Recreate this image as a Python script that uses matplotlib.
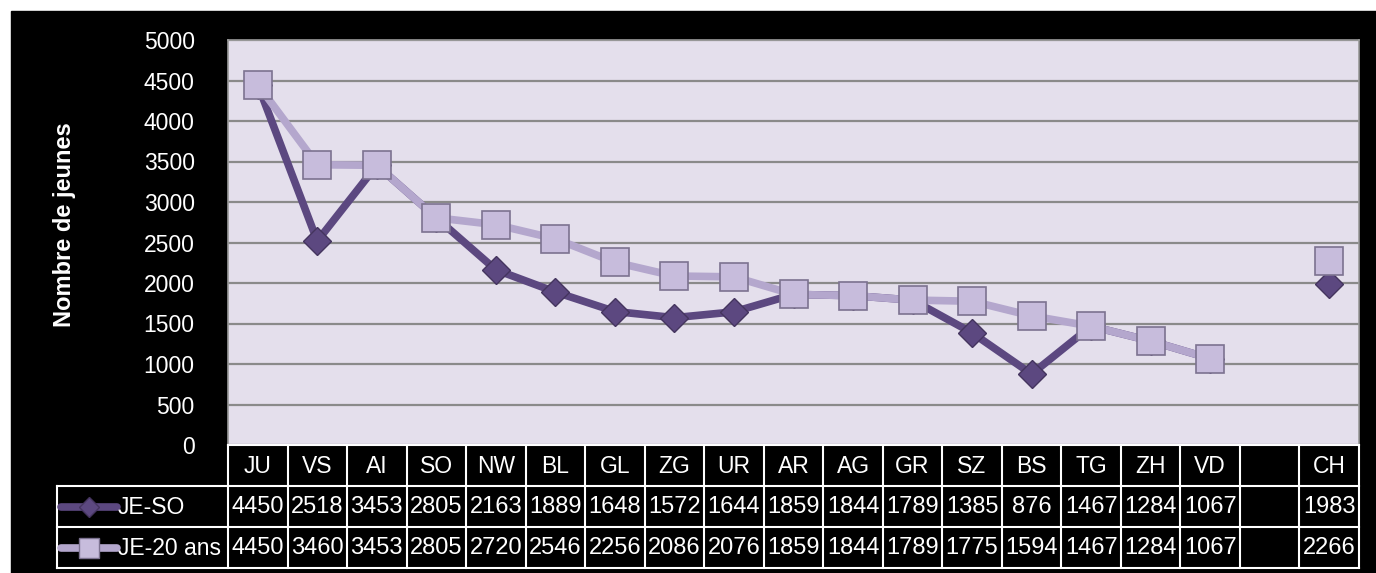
import numpy as np
import matplotlib
matplotlib.use('Agg')
import matplotlib.pyplot as plt
from matplotlib.patches import Rectangle
from matplotlib.lines import Line2D

cantons = ['JU', 'VS', 'AI', 'SO', 'NW', 'BL', 'GL', 'ZG', 'UR', 'AR', 'AG', 'GR',
           'SZ', 'BS', 'TG', 'ZH', 'VD', '', 'CH']
je_so = [4450, 2518, 3453, 2805, 2163, 1889, 1648, 1572, 1644, 1859, 1844, 1789,
         1385, 876, 1467, 1284, 1067, np.nan, 1983]
je_20 = [4450, 3460, 3453, 2805, 2720, 2546, 2256, 2086, 2076, 1859, 1844, 1789,
         1775, 1594, 1467, 1284, 1067, np.nan, 2266]
series_names = ['JE-SO', 'JE-20 ans']

plt.rcParams['font.family'] = ['Liberation Sans', 'DejaVu Sans']

W, H = 1376, 573
fig = plt.figure(figsize=(W / 100, H / 100), dpi=100, facecolor='white')
fig.patches.append(Rectangle((11 / W, 0), 1 - 11 / W, 1 - 11 / H,
                             transform=fig.transFigure, color='black', zorder=-10))

dark = '#5c4880'
dark_edge = '#44345e'
light = '#b4a7cd'
light_fill = '#c7bcdc'
light_edge = '#7c7290'

x0, x1 = 228, 1359
y_top, y_zero, y_bot = 40, 445, 568
ax = fig.add_axes([x0 / W, (H - y_zero) / H, (x1 - x0) / W, (y_zero - y_top) / H])
ax.set_facecolor('#e4dfec')
x = np.arange(len(cantons))
ax.set_xlim(-0.5, len(cantons) - 0.5)
ax.set_ylim(0, 5000)
ax.set_yticks(range(0, 5001, 500))
ax.set_xticks([])
ax.grid(axis='y', color='#8a8a8a', linewidth=1.6)
ax.set_axisbelow(True)
ax.tick_params(axis='y', length=0, colors='white', labelsize=16.5, pad=24)
for s in ax.spines.values():
    s.set_color('#9a9a9a')
    s.set_linewidth(1.2)

ax.plot(x, je_so, color=dark, linewidth=5.5, marker='D', markersize=14,
        markerfacecolor=dark, markeredgecolor=dark_edge, markeredgewidth=1, zorder=3)
ax.plot(x, je_20, color=light, linewidth=5.5, marker='s', markersize=19.5,
        markerfacecolor=light_fill, markeredgecolor=light_edge, markeredgewidth=1.2, zorder=4)

fig.text(65 / W, (H - 225) / H, 'Nombre de jeunes', rotation=90, color='white',
         fontsize=17, fontweight='bold', ha='center', va='center')

# data table under the plot
tax = fig.add_axes([x0 / W, (H - y_bot) / H, (x1 - x0) / W, (y_bot - y_zero) / H])
tax.set_xlim(-0.5, len(cantons) - 0.5)
tax.set_ylim(3, 0)
tax.axis('off')
unit = (x1 - x0) / len(cantons)
left = -0.5 - (x0 - 57) / unit
lw = 1.5
for i, c in enumerate(cantons):
    tax.text(i, 0.52, c, color='white', fontsize=16.5, ha='center', va='center')
    tax.text(i, 1.52, '' if np.isnan(je_so[i]) else f'{int(je_so[i])}', color='white',
             fontsize=17, ha='center', va='center')
    tax.text(i, 2.52, '' if np.isnan(je_20[i]) else f'{int(je_20[i])}', color='white',
             fontsize=17, ha='center', va='center')
for k in range(len(cantons) + 1):
    tax.plot([k - 0.5, k - 0.5], [0, 3], color='white', lw=lw, clip_on=False)
tax.plot([-0.5, len(cantons) - 0.5], [0, 0], color='white', lw=lw, clip_on=False)
for r in (1, 2, 3):
    tax.plot([left, len(cantons) - 0.5], [r, r], color='white', lw=lw, clip_on=False)
tax.plot([left, left], [1, 3], color='white', lw=lw, clip_on=False)

key_a = left + 4 / unit
key_b = left + 60 / unit
styles = [(dark, 'D', 10, dark, dark_edge), (light, 's', 14, light_fill, light_edge)]
for r, (name, (col, mk, ms, fc, ec)) in enumerate(zip(series_names, styles)):
    yy = 1.5 + r
    tax.add_line(Line2D([key_a, key_b], [yy, yy], color=col, lw=5.5, solid_capstyle='round',
                        clip_on=False))
    tax.add_line(Line2D([(key_a + key_b) / 2], [yy], marker=mk, markersize=ms,
                        markerfacecolor=fc, markeredgecolor=ec, clip_on=False))
    tax.text(key_b + 1 / unit, yy + 0.02, name, color='white', fontsize=16.5,
             ha='left', va='center')

fig.savefig('out.png', dpi=100, facecolor=fig.get_facecolor())
